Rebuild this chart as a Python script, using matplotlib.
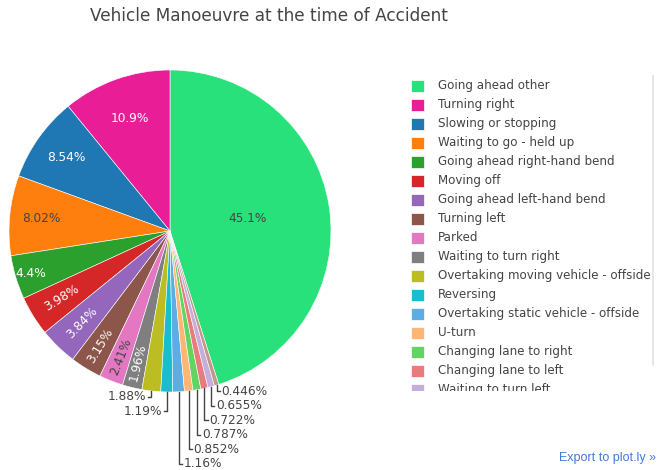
import numpy as np
import matplotlib
matplotlib.use('Agg')
import matplotlib.pyplot as plt
from matplotlib.patches import Rectangle
from matplotlib.lines import Line2D

plt.rcParams['font.family'] = ['DejaVu Sans']

manoeuvres = ['Going ahead other', 'Turning right', 'Slowing or stopping',
              'Waiting to go - held up', 'Going ahead right-hand bend',
              'Moving off', 'Going ahead left-hand bend', 'Turning left',
              'Parked', 'Waiting to turn right',
              'Overtaking moving vehicle - offside', 'Reversing',
              'Overtaking static vehicle - offside', 'U-turn',
              'Changing lane to right', 'Changing lane to left',
              'Waiting to turn left', 'Overtaking - nearside']
share = [45.1, 10.9, 8.54, 8.02, 4.4, 3.98, 3.84, 3.15, 2.41, 1.96,
         1.88, 1.19, 1.16, 0.852, 0.787, 0.722, 0.655, 0.446]
pct_labels = ['45.1%', '10.9%', '8.54%', '8.02%', '4.4%', '3.98%', '3.84%',
              '3.15%', '2.41%', '1.96%', '1.88%', '1.19%', '1.16%', '0.852%',
              '0.787%', '0.722%', '0.655%', '0.446%']

colours = ['#29e17a', '#e91e96', '#1f77b4', '#ff7f0e', '#2ca02c', '#d62728',
           '#9467bd', '#8c564b', '#e377c2', '#7f7f7f', '#bcbd22', '#17becf',
           '#5dade2', '#ffb574', '#62d462', '#e87c7c', '#c5aedc', '#c0998a']

# label placement for the slices that carry their text inside
inside_r = [0.49, 0.74, 0.79, 0.80, 0.905, 0.79, 0.79, 0.835, 0.84, 0.84]
inside_rot = [False] * 5 + [True] * 5
inside_col = ['#444444', 'white', 'white', '#444444', 'white', 'white',
              'white', 'white', '#444444', 'white']

W, H = 658, 470
fig = plt.figure(figsize=(W / 100, H / 100), dpi=100)
fig.patch.set_facecolor('white')

# pie axes: centre (170, 231) px, radius 161 px
cx, cy, rad = 170, 231, 161
ax = fig.add_axes([(cx - rad) / W, (H - cy - rad) / H, 2 * rad / W, 2 * rad / H])
start = 90 - 360 * share[0] / sum(share)
wedges, _ = ax.pie(share, colors=colours, startangle=start, counterclock=True,
                   wedgeprops=dict(linewidth=0.4, edgecolor='white'))
ax.set_xlim(-1, 1)
ax.set_ylim(-1, 1)
ax.set_aspect('auto')
ax.axis('off')

fs = 8.7
mids = [np.deg2rad((w.theta1 + w.theta2) / 2) for w in wedges]

for i in range(len(inside_r)):
    a = mids[i]
    r = inside_r[i]
    rot = 0
    if inside_rot[i]:
        rot = np.rad2deg(a) - 180
    ax.text(r * np.cos(a), r * np.sin(a), pct_labels[i], ha='center',
            va='center', fontsize=fs, color=inside_col[i], rotation=rot,
            rotation_mode='anchor')

# outside labels, stacked downward on each side
step = 0.09
gap = 0.03
lc = '#444444'
right = [i for i in range(len(share) - 1, len(inside_r) - 1, -1)
         if np.cos(mids[i]) >= 0]
left = [i for i in range(len(inside_r), len(share)) if np.cos(mids[i]) < 0]
for group, sgn in ((right, 1), (left, -1)):
    prev = None
    for i in group:
        a = mids[i]
        rx, ry = np.cos(a), np.sin(a)
        ly = ry - 0.037
        if prev is not None:
            ly = min(ly, prev - step)
        prev = ly
        ax.add_line(Line2D([rx, rx, rx + sgn * 0.02], [ry, ly, ly],
                           color=lc, lw=1.0, clip_on=False))
        ax.text(rx + sgn * gap, ly, pct_labels[i], fontsize=fs, color='#444444',
                ha='left' if sgn > 0 else 'right', va='center')

# title
fig.text(90 / W, 1 - 16 / H, 'Vehicle Manoeuvre at the time of Accident',
         fontsize=12.15, color='#444444', ha='left', va='center')

# legend (scrolling box, clipped at the bottom)
lx0, lx1, ly0, ly1 = 400, 658, 72, 391
lax = fig.add_axes([lx0 / W, (H - ly1) / H, (lx1 - lx0) / W, (ly1 - ly0) / H])
lax.set_xlim(lx0, lx1)
lax.set_ylim(ly1, ly0)
lax.axis('off')
for k, (name, c) in enumerate(zip(manoeuvres, colours)):
    yy = 85.5 + 19 * k
    lax.add_patch(Rectangle((411, yy - 6), 13, 12, facecolor=c,
                            edgecolor='white', lw=0.5, clip_on=True))
    lax.text(438, yy, name, fontsize=8.6, color='#444444', va='center',
             ha='left', clip_on=True)

# scrollbar
fig.add_artist(Line2D([653 / W, 653 / W], [1 - 76 / H, 1 - 365 / H],
                      color='#e2e2e2', lw=1.2))

fig.text(656 / W, 1 - 458 / H, 'Export to plot.ly \u00bb', fontsize=9,
         color='#447adb', ha='right', va='center',
         family=['Liberation Sans', 'DejaVu Sans'])

fig.savefig('out.png', dpi=100, facecolor='white')
